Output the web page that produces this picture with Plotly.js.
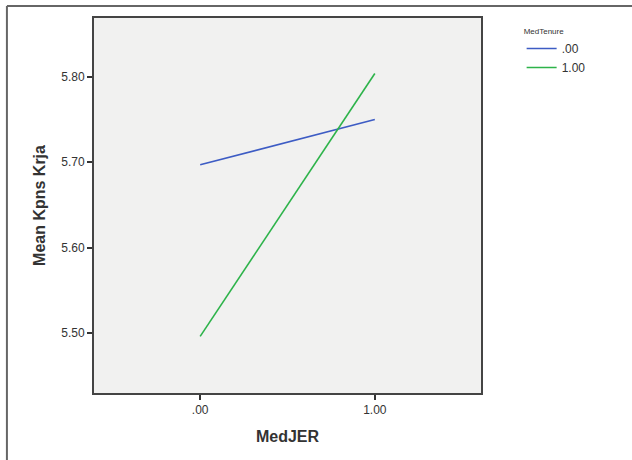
<!DOCTYPE html>
<html>
<head>
<meta charset="utf-8">
<script src="https://cdn.plot.ly/plotly-3.0.1.min.js"></script>
<style>html,body{margin:0;padding:0;background:#fff;}#chart{width:632px;height:460px;}</style>
</head>
<body>
<div id="chart"></div>
<script>
// Data
const medJER = [0, 1];
const xTickLabels = ['.00', '1.00'];
const groupNames = ['.00', '1.00'];
const meanGroup0 = [5.697, 5.750];
const meanGroup1 = [5.496, 5.804];
const groupColors = ['#3d5cc4', '#2db34a'];

const traces = [
  {x: medJER, y: meanGroup0, name: groupNames[0], type: 'scatter', mode: 'lines',
   line: {color: groupColors[0], width: 1.6}},
  {x: medJER, y: meanGroup1, name: groupNames[1], type: 'scatter', mode: 'lines',
   line: {color: groupColors[1], width: 1.6}}
];

const layout = {
  width: 632, height: 460,
  margin: {l: 94, r: 151, t: 18, b: 67},
  paper_bgcolor: '#ffffff',
  plot_bgcolor: '#f1f1f0',
  font: {family: 'Arial, Liberation Sans, sans-serif', color: '#333'},
  showlegend: true,
  legend: {
    x: 1.105, y: 0.985, xanchor: 'left', yanchor: 'top',
    bgcolor: 'rgba(0,0,0,0)',
    font: {size: 12, color: '#333'},
    title: {text: 'MedTenure', font: {size: 8, color: '#333'}},
    itemwidth: 30, tracegroupgap: 0
  },
  xaxis: {
    range: [-0.608, 1.608],
    tickvals: medJER, ticktext: xTickLabels,
    ticks: 'outside', ticklen: 5, tickwidth: 2, tickcolor: '#333',
    showline: true, linecolor: '#444', linewidth: 2, mirror: true,
    showgrid: false, zeroline: false,
    tickfont: {size: 12, color: '#333'},
    title: {text: '<b>MedJER</b>', font: {size: 16, color: '#333'}, standoff: 14}
  },
  yaxis: {
    range: [5.4297, 5.869],
    tickvals: [5.5, 5.6, 5.7, 5.8], tickformat: '.2f',
    ticks: 'outside', ticklen: 5, tickwidth: 2, tickcolor: '#333',
    showline: true, linecolor: '#444', linewidth: 2, mirror: true,
    showgrid: false, zeroline: false,
    tickfont: {size: 12, color: '#333'},
    title: {text: '<b>Mean Kpns Krja</b>', font: {size: 16, color: '#333'}, standoff: 12}
  },
  shapes: [
    {type: 'line', xref: 'paper', yref: 'paper', x0: -0.225, x1: 1.4, y0: 1.032, y1: 1.032,
     line: {color: '#666', width: 2}},
    {type: 'line', xref: 'paper', yref: 'paper', x0: -0.225, x1: -0.225, y0: 1.032, y1: -0.2,
     line: {color: '#666', width: 2}}
  ]
};

Plotly.newPlot('chart', traces, layout, {displayModeBar: false, staticPlot: true});
</script>
</body>
</html>
